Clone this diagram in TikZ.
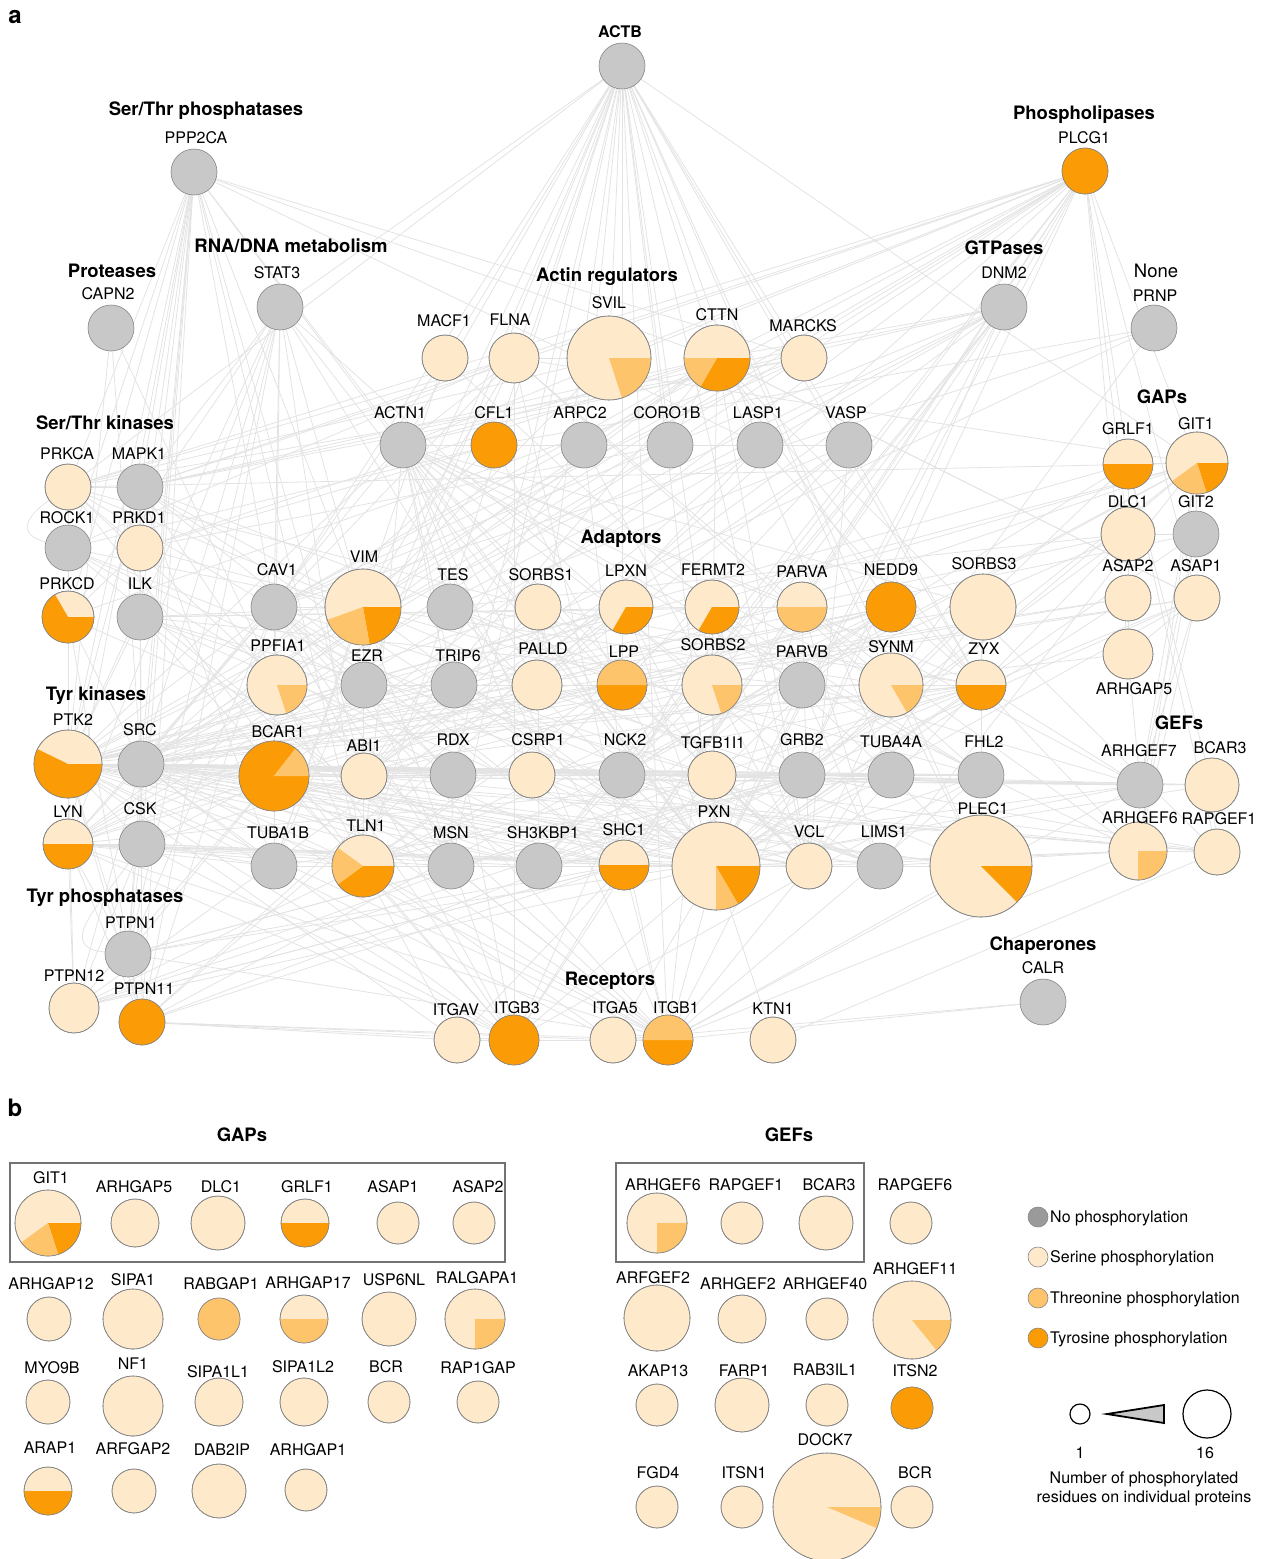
\documentclass[tikz,border=0pt]{standalone}
\usepackage{fontspec}
\setmainfont{TeX Gyre Heros}
\usetikzlibrary{backgrounds}

\definecolor{nophos}{HTML}{C8C8C8}
\definecolor{ser}{HTML}{FEEACB}
\definecolor{thr}{HTML}{FDC46B}
\definecolor{tyr}{HTML}{FB9B05}
\definecolor{edgec}{HTML}{E3E3E3}
\definecolor{rimc}{HTML}{858585}
\definecolor{leggray}{HTML}{9A9A9A}

% gray protein: name, position, radius, label, label position
\newcommand{\nophos}[5]{%
  \node[prot,fill=nophos,minimum size=2*#3pt] (#1) at (#2) {};
  \node[lbl] (#1l) at (#5) {#4};}

% pie protein: name, position, radius, tyr angle, thr angle, label, label position
\newcommand{\prot}[7]{%
  \node[prot,fill=ser,minimum size=2*#3pt] (#1) at (#2) {};
  \ifnum#4>0 \fill[tyr] (#1.center) -- ++(0:#3pt) arc[start angle=0,end angle=-#4,radius=#3pt] -- cycle;\fi
  \ifnum#5>0 \fill[thr] (#1.center) -- ++(-#4:#3pt) arc[start angle=-#4,end angle=-#4-#5,radius=#3pt] -- cycle;\fi
  \draw[rimc,line width=.6pt] (#1.center) circle[radius=#3pt];
  \node[lbl] (#1l) at (#7) {#6};}

\begin{document}
\begin{tikzpicture}
  [x=1pt,y=-1pt,
   prot/.style={circle,inner sep=0pt,draw=rimc,line width=.6pt},
   lbl/.style={font=\fontsize{16}{19}\selectfont,anchor=base,yshift=-5.7pt,inner sep=0pt},
   grp/.style={font=\fontsize{18.5}{22}\selectfont\bfseries,anchor=base,yshift=-6.7pt,inner sep=0pt},
   panel/.style={font=\fontsize{24}{28}\selectfont\bfseries,anchor=base,yshift=-6.3pt,inner sep=0pt},
   edge/.style={draw=edgec,line width=.8pt},
   legdot/.style={circle,inner sep=0pt,minimum size=20pt,draw=rimc,line width=.6pt},
   legtxt/.style={font=\fontsize{16}{19}\selectfont,anchor=base west,yshift=-5.7pt,inner sep=0pt},
   box/.style={draw=black!55,line width=1.1pt}]

  \useasboundingbox (0,0) rectangle (1263,1559);

  \node[panel] (pa) at (15,17) {a};
  \node[panel] (pb) at (15,1110) {b};

  % group titles, panel a
  \node[grp] (gSTP) at (206,109) {Ser/Thr phosphatases};
  \node[grp] (gPRO) at (112,271) {Proteases};
  \node[grp] (gRNA) at (291,246) {RNA/DNA metabolism};
  \node[grp] (gACT) at (607,275) {Actin regulators};
  \node[grp] (gPLC) at (1084,113) {Phospholipases};
  \node[grp] (gGTP) at (1004,248) {GTPases};
  \node[grp,font=\fontsize{18.5}{22}\selectfont] (gNON) at (1156,271) {None};
  \node[grp] (gSTK) at (105,423) {Ser/Thr kinases};
  \node[grp] (gADA) at (621,537) {Adaptors};
  \node[grp] (gGAP) at (1162,397) {GAPs};
  \node[grp] (gTYK) at (96,694) {Tyr kinases};
  \node[grp] (gGEF) at (1179,723) {GEFs};
  \node[grp] (gTYP) at (105,896) {Tyr phosphatases};
  \node[grp] (gREC) at (610,979) {Receptors};
  \node[grp] (gCHA) at (1043,944) {Chaperones};

  % proteins, panel a
  \nophos{ACTB}{622,66}{23}{\bfseries ACTB}{620,32}
  \nophos{PPP2CA}{194,172}{23}{PPP2CA}{196,138}
  \nophos{CAPN2}{111,328}{23}{CAPN2}{108,294}
  \nophos{STAT3}{280,307}{23}{STAT3}{277,273}
  \nophos{DNM2}{1004,307}{23}{DNM2}{1004,273}
  \nophos{PRNP}{1154,328}{23}{PRNP}{1155,296}
  \nophos{ACTN1}{403,445}{23}{ACTN1}{400,413}
  \nophos{ARPC2}{584,445}{23}{ARPC2}{580,413}
  \nophos{CORO1B}{670,445}{23}{CORO1B}{667,413}
  \nophos{LASP1}{760,445}{23}{LASP1}{758,413}
  \nophos{VASP}{849,445}{23}{VASP}{846,413}
  \nophos{MAPK1}{140,487}{23}{MAPK1}{139,454}
  \nophos{ROCK1}{68,548}{23}{ROCK1}{67,518}
  \nophos{ILK}{140,617}{23}{ILK}{140,584}
  \nophos{CAV1}{274,607}{23}{CAV1}{277,570}
  \nophos{EZR}{364,685}{23}{EZR}{367,656}
  \nophos{SRC}{141,764}{23}{SRC}{140,730}
  \nophos{CSK}{142,844}{23}{CSK}{140,809}
  \nophos{TUBA1B}{274,866}{23}{TUBA1B}{278,833}
  \nophos{PTPN1}{128,954}{23}{PTPN1}{131,923}
  \nophos{TES}{450,607}{23}{TES}{453,575}
  \nophos{TRIP6}{454,685}{23}{TRIP6}{458,656}
  \nophos{PARVB}{802,685}{23}{PARVB}{802,652}
  \nophos{RDX}{453,775}{23}{RDX}{453,740}
  \nophos{NCK2}{622,775}{23}{NCK2}{625,740}
  \nophos{GRB2}{802,775}{23}{GRB2}{802,740}
  \nophos{TUBA4A}{891,775}{23}{TUBA4A}{891,742}
  \nophos{FHL2}{981,775}{23}{FHL2}{984,742}
  \nophos{MSN}{451,866}{23}{MSN}{451,833}
  \nophos{SH3KBP1}{539,866}{23}{SH3KBP1}{543,833}
  \nophos{LIMS1}{880,866}{23}{LIMS1}{884,832}
  \nophos{GIT2}{1196,534}{23}{GIT2}{1196,502}
  \nophos{ARHGEF7}{1140,785}{23}{ARHGEF7}{1139,751}
  \nophos{CALR}{1043,1002}{23}{CALR}{1043,968}

  \prot{MACF1}{445,358}{23}{0}{0}{MACF1}{444,321}
  \prot{FLNA}{514,358}{25}{0}{0}{FLNA}{510,320}
  \prot{SVIL}{609,358}{42}{0}{72}{SVIL}{609,303}
  \prot{CTTN}{717,358}{33}{120}{60}{CTTN}{717,315}
  \prot{MARCKS}{804,358}{23}{0}{0}{MARCKS}{803,326}
  \prot{PLCG1}{1085,171}{23}{360}{0}{PLCG1}{1084,138}
  \prot{CFL1}{494,445}{23}{360}{0}{CFL1}{494,413}
  \prot{PRKCA}{68,487}{23}{0}{0}{PRKCA}{67,454}
  \prot{PRKD1}{140,548}{23}{0}{0}{PRKD1}{139,518}
  \prot{PRKCD}{68,617}{26}{240}{0}{PRKCD}{67,584}
  \prot{VIM}{363,607}{38}{80}{80}{VIM}{364,557}
  \prot{PPFIA1}{277,685}{30}{0}{72}{PPFIA1}{278,646}
  \prot{PTK2}{68,764}{34}{206}{0}{PTK2}{73,720}
  \prot{BCAR1}{274,776}{35}{308}{52}{BCAR1}{278,732}
  \prot{ABI1}{364,776}{23}{0}{0}{ABI1}{364,746}
  \prot{LYN}{68,844}{25}{180}{0}{LYN}{68,812}
  \prot{TLN1}{363,866}{31}{144}{72}{TLN1}{366,826}
  \prot{PTPN12}{74,1008}{25}{0}{0}{PTPN12}{74,976}
  \prot{PTPN11}{142,1022}{23}{360}{0}{PTPN11}{144,989}
  \prot{SORBS1}{538,607}{23}{0}{0}{SORBS1}{541,575}
  \prot{LPXN}{626,607}{27}{120}{0}{LPXN}{626,571}
  \prot{FERMT2}{712,607}{27}{120}{0}{FERMT2}{713,570}
  \prot{PARVA}{802,607}{25}{0}{180}{PARVA}{802,572}
  \prot{NEDD9}{891,607}{25}{360}{0}{NEDD9}{891,570}
  \prot{SORBS3}{983,607}{33}{0}{0}{SORBS3}{984,564}
  \prot{PALLD}{537,685}{25}{0}{0}{PALLD}{543,649}
  \prot{LPP}{622,685}{25}{180}{180}{LPP}{624,652}
  \prot{SORBS2}{712,685}{30}{0}{72}{SORBS2}{713,645}
  \prot{SYNM}{891,685}{32}{0}{60}{SYNM}{891,647}
  \prot{ZYX}{981,685}{25}{180}{0}{ZYX}{984,649}
  \prot{CSRP1}{532,775}{23}{0}{0}{CSRP1}{538,740}
  \prot{TGFB1I1}{712,775}{24}{0}{0}{TGFB1I1}{713,743}
  \prot{SHC1}{624,865}{25}{180}{0}{SHC1}{624,830}
  \prot{PXN}{716,866}{44}{60}{30}{PXN}{714,812}
  \prot{VCL}{809,866}{23}{0}{0}{VCL}{809,832}
  \prot{PLEC1}{981,866}{51}{45}{0}{PLEC1}{983,809}
  \prot{GRLF1}{1128,464}{25}{180}{0}{GRLF1}{1128,429}
  \prot{GIT1}{1197,463}{31}{72}{72}{GIT1}{1196,424}
  \prot{DLC1}{1128,534}{27}{0}{0}{DLC1}{1128,502}
  \prot{ASAP2}{1128,598}{23}{0}{0}{ASAP2}{1128,566}
  \prot{ASAP1}{1197,598}{23}{0}{0}{ASAP1}{1196,566}
  \prot{ARHGAP5}{1128,654}{25}{0}{0}{ARHGAP5}{1134,689}
  \prot{BCAR3}{1212,785}{27}{0}{0}{BCAR3}{1220,748}
  \prot{ARHGEF6}{1138,851}{29}{0}{90}{ARHGEF6}{1140,818}
  \prot{RAPGEF1}{1217,852}{23}{0}{0}{RAPGEF1}{1219,819}
  \prot{ITGAV}{457,1040}{23}{0}{0}{ITGAV}{456,1010}
  \prot{ITGB3}{514,1040}{25}{360}{0}{ITGB3}{517,1008}
  \prot{ITGA5}{613,1040}{23}{0}{0}{ITGA5}{615,1008}
  \prot{ITGB1}{668,1040}{25}{180}{180}{ITGB1}{676,1008}
  \prot{KTN1}{773,1040}{23}{0}{0}{KTN1}{773,1009}

  % interactions
  \begin{scope}[on background layer]
    \foreach \p/\qs in {
      ACTB/{ACTN1,FLNA,MACF1,SVIL,CTTN,MARCKS,CFL1,ARPC2,CORO1B,LASP1,VASP,VIM,TLN1,VCL,PXN,PLEC1,CAV1,PRKCA,SORBS2,EZR,PALLD,ZYX,TUBA1B,ITGB1,LPP,SYNM,MSN,RDX,STAT3,GIT1},
      PPP2CA/{PRKCA,MAPK1,PRKCD,ROCK1,ILK,SRC,PTK2,LYN,CSK,VIM,CTTN,MARCKS,TLN1,PXN,ACTN1,PTPN1,ABI1,PRKD1,CAV1,LASP1,PTPN11},
      PLCG1/{PTK2,SRC,LYN,VIM,CTTN,DNM2,GRLF1,GIT1,DLC1,ASAP1,SHC1,GRB2,ITGB3,PXN,BCAR1,PTPN11,ARHGEF7,MAPK1,CAV1,PRKCA,FLNA,NCK2,SH3KBP1,ACTN1},
      STAT3/{SRC,PTK2,LYN,CAV1,PTPN1,PTPN11,MAPK1,BCAR1,SHC1,GRB2,VIM,PRKCD,TLN1,PXN},
      CAPN2/{PTK2,TLN1,SRC},
      DNM2/{SRC,CTTN,GRB2,SHC1,NCK2,SH3KBP1,CAV1,PTK2,MAPK1,PXN,SORBS2,ACTN1,ABI1,LYN},
      PRNP/{CAV1,LYN,SYNM,CFL1},
      SRC/{PTK2,LYN,CSK,BCAR1,PXN,CAV1,CTTN,ACTN1,SHC1,GRB2,NCK2,ABI1,TLN1,VCL,ASAP1,GIT1,ARHGEF7,PTPN1,PTPN11,PTPN12,ITGB3,ITGB1,NEDD9,SORBS2,PRKCD,MAPK1,ILK,VIM,EZR,SH3KBP1,RDX,CSRP1,TGFB1I1,TUBA4A,FHL2,MSN,TUBA1B,PLEC1,LIMS1,LPP,ZYX,CFL1,CORO1B},
      PTK2/{LYN,CSK,BCAR1,PXN,TLN1,VCL,GRB2,SHC1,NCK2,GIT1,GIT2,GRLF1,ASAP1,ARHGEF7,PTPN1,PTPN11,PTPN12,ITGB1,ITGB3,ITGAV,ITGA5,CAV1,NEDD9,TGFB1I1,LPXN,PRKCA,PRKCD,ROCK1,MAPK1,ILK,ACTN1,ZYX,ABI1,PLEC1,SORBS1,SORBS3,CSRP1,RDX,TUBA4A,FHL2,MSN,SH3KBP1,DLC1,ASAP2,BCAR3,RAPGEF1,VIM},
      BCAR1/{PXN,NEDD9,CSK,LYN,SH3KBP1,NCK2,GRB2,BCAR3,RAPGEF1,PTPN1,PTPN12,TLN1,ZYX,VCL,ABI1,SHC1,ITGB1,ARHGEF7,GIT1,CAV1,TUBA1B,MSN},
      PXN/{TLN1,VCL,GIT1,GIT2,ARHGEF7,ARHGEF6,PARVA,PARVB,ILK,LPXN,TGFB1I1,PTPN12,CSK,LYN,ITGB1,ITGA5,ITGB3,ACTN1,ZYX,LIMS1,FERMT2,SHC1,GRB2,SORBS1,SORBS2,SORBS3,PLEC1,VIM,NCK2,FHL2,TUBA4A,PRKCA,MAPK1,CFL1,ABI1,TES,TRIP6,KTN1,ASAP1,ASAP2},
      TLN1/{VCL,ITGB1,ITGB3,ITGA5,ITGAV,FERMT2,ACTN1,LPP,ZYX,PLEC1,TUBA1B,MSN,VIM,DLC1},
      VCL/{ACTN1,ITGB1,ZYX,LPP,VASP,SORBS1,SORBS3,PLEC1,ARPC2,CTTN,SYNM,PARVA,CSRP1},
      ACTN1/{ZYX,LPP,PALLD,TRIP6,CSRP1,ITGB1,ITGB3,FHL2,SORBS2,VASP,LASP1,CTTN,TES,FLNA,SYNM,PARVA,PARVB,SORBS3},
      ZYX/{VASP,LPP,TRIP6,TES,CSRP1,FHL2,SORBS3,NEDD9,ARHGEF6,ARHGEF7},
      ILK/{PARVA,PARVB,LIMS1,FERMT2,ITGB1,ITGB3,TGFB1I1,VIM,MAPK1},
      CAV1/{ITGB1,FLNA,SHC1,GRB2,PTPN1,PTPN11,VIM,EZR,MSN,CTTN,ITGB3,LYN},
      GRB2/{SHC1,NCK2,SH3KBP1,PTPN11,PTPN1,ASAP1,GIT1,ARHGEF7,GRLF1,DLC1,RAPGEF1,BCAR3},
      SHC1/{ITGB3,ITGB1,ITGAV,PTPN11,PTPN12,PTPN1,LYN},
      NCK2/{SH3KBP1,GIT1,ABI1,LIMS1,SORBS2,ARHGEF7},
      CTTN/{ABI1,ARPC2,CORO1B,NEDD9,SORBS2,ZYX,ASAP1,MAPK1,PRKD1},
      FLNA/{ITGB1,ITGB3,VIM,SVIL,FHL2,PRKCA,ROCK1,MAPK1,GIT1},
      VIM/{PRKCA,ROCK1,PRKD1,PLEC1,MAPK1,FHL2,ITGB3,SYNM,EZR,TUBA1B},
      PRKCA/{MARCKS,ITGB1,PRKD1,GIT1,TLN1,SORBS1,MAPK1},
      PRKCD/{PRKD1,LYN,MARCKS,PTPN11,SHC1},
      ROCK1/{MSN,EZR,RDX,LIMS1,PRKCD},
      MAPK1/{MARCKS,ITGB3,SHC1,TUBA4A},
      PRKD1/{CFL1,CORO1B,SRC},
      LYN/{CSK,PTPN12,PTPN1,PTPN11,ITGB3,ITGB1,SH3KBP1,CTTN,TUBA1B,TLN1,MSN,VCL,GRB2},
      CSK/{PTPN12,PTPN1,SHC1,TUBA1B},
      PTPN1/{GRB2,ITGB1,PTPN11},
      PTPN12/{SHC1,GRB2},
      PTPN11/{ITGB3,ITGAV,ITGB1,GIT1,ITGA5},
      GIT1/{ARHGEF7,ARHGEF6,GIT2,LIMS1},
      GIT2/{ARHGEF7,ARHGEF6,DLC1},
      DLC1/{TES,ZYX},
      ASAP1/{ARHGEF7,ARHGEF6,SH3KBP1,CTTN},
      ASAP2/{SRC},
      ARHGAP5/{SRC,ASAP1,GRLF1},
      GRLF1/{GIT1,RAPGEF1,BCAR3,NCK2},
      ARHGEF7/{PARVA,PARVB,ARHGEF6,SH3KBP1,ITGB1},
      ARHGEF6/{PARVA,PARVB,ITGB1,LIMS1,VCL},
      BCAR3/{RAPGEF1,PTPN1},
      RAPGEF1/{NCK2,ABI1,CTTN,ARHGEF6},
      SORBS1/{ZYX,ABI1,SH3KBP1},
      SORBS2/{ZYX,LPP,PALLD,ABI1},
      SORBS3/{ZYX},
      LPXN/{LYN,PTPN12,PTPN11},
      FERMT2/{ITGB1,ITGB3,PARVA,VCL,FHL2},
      PARVA/{LIMS1},
      PARVB/{LIMS1},
      NEDD9/{SH3KBP1,CSK,LYN,NCK2,SHC1,PTPN12},
      SYNM/{PLEC1,FLNA},
      TES/{VASP,LPP},
      TRIP6/{LPP,LIMS1},
      PALLD/{VASP,LASP1,EZR,LPP},
      LPP/{VASP,CSRP1},
      RDX/{EZR,MSN,CAV1},
      EZR/{MSN,FLNA},
      MSN/{ITGB1},
      CSRP1/{PXN},
      TGFB1I1/{ZYX,VCL,LPXN,FHL2,PTPN12,TRIP6},
      TUBA4A/{TUBA1B,PLEC1,CTTN},
      TUBA1B/{PLEC1,MAPK1},
      FHL2/{ITGB1,ITGB3},
      SH3KBP1/{ABI1},
      LIMS1/{PLEC1,TGFB1I1},
      PLEC1/{ITGB1},
      CALR/{ITGB1,ITGA5},
      KTN1/{RAPGEF1},
      ITGB1/{ITGA5,ITGAV,GRB2},
      ITGB3/{ITGAV,CSK},
      MACF1/{TUBA1B,TUBA4A,CAV1},
      SVIL/{PLCG1,VIM,PRKCA},
      CFL1/{CORO1B,ARPC2,ROCK1,ACTN1},
      ARPC2/{CORO1B,ABI1,NCK2,VASP},
      LASP1/{ZYX,VASP,ABI1},
      VASP/{ABI1},
      MARCKS/{CAV1}}
      {\foreach \q in \qs {\draw[edge] (\p) -- (\q);}}
    \draw[edge] (PRKCA) to[out=215,in=165,looseness=1.8] (ROCK1);
    \draw[edge] (CSK) to[out=235,in=175,looseness=1.4] (PTPN1);
  \end{scope}

  % panel b
  \node[grp] (gbGAP) at (242,1135) {GAPs};
  \node[grp] (gbGEF) at (789,1135) {GEFs};
  \draw[box] (10,1163) rectangle (505,1262);
  \draw[box] (616,1163) rectangle (864,1262);

  \prot{bGIT1}{48,1223}{33}{72}{72}{GIT1}{51,1178}
  \prot{bARHGAP5}{135,1223}{24}{0}{0}{ARHGAP5}{134,1187}
  \prot{bDLC1}{218,1223}{27}{0}{0}{DLC1}{221,1187}
  \prot{bGRLF1}{305,1223}{24}{180}{0}{GRLF1}{307,1187}
  \prot{bASAP1}{398,1223}{21}{0}{0}{ASAP1}{393,1187}
  \prot{bASAP2}{474,1223}{21}{0}{0}{ASAP2}{478,1187}
  \prot{bARHGAP12}{49,1319}{22}{0}{0}{ARHGAP12}{51,1284}
  \prot{bSIPA1}{133,1319}{30}{0}{0}{SIPA1}{133,1280}
  \prot{bRABGAP1}{219,1319}{21}{0}{360}{RABGAP1}{221,1284}
  \prot{bARHGAP17}{304,1319}{24}{0}{180}{ARHGAP17}{308,1283}
  \prot{bUSP6NL}{389,1319}{27}{0}{0}{USP6NL}{394,1280}
  \prot{bRALGAPA1}{475,1319}{30}{0}{90}{RALGAPA1}{477,1278}
  \prot{bMYO9B}{48,1402}{22}{0}{0}{MYO9B}{52,1368}
  \prot{bNF1}{133,1406}{30}{0}{0}{NF1}{133,1364}
  \prot{bSIPA1L1}{219,1402}{24}{0}{0}{SIPA1L1}{218,1372}
  \prot{bSIPA1L2}{304,1402}{24}{0}{0}{SIPA1L2}{303,1367}
  \prot{bBCR}{389,1402}{21}{0}{0}{BCR}{386,1367}
  \prot{bRAP1GAP}{478,1402}{21}{0}{0}{RAP1GAP}{478,1368}
  \prot{bARAP1}{48,1491}{24}{180}{0}{ARAP1}{50,1448}
  \prot{bARFGAP2}{134,1491}{22}{0}{0}{ARFGAP2}{133,1449}
  \prot{bDAB2IP}{219,1491}{27}{0}{0}{DAB2IP}{222,1450}
  \prot{bARHGAP1}{306,1490}{21}{0}{0}{ARHGAP1}{308,1450}

  \prot{bARHGEF6}{657,1223}{30}{0}{90}{ARHGEF6}{663,1185}
  \prot{bRAPGEF1}{742,1223}{21}{0}{0}{RAPGEF1}{746,1185}
  \prot{bBCAR3}{826,1223}{27}{0}{0}{BCAR3}{829,1185}
  \prot{bRAPGEF6}{911,1223}{21}{0}{0}{RAPGEF6}{915,1185}
  \prot{bARFGEF2}{657,1318}{33}{0}{0}{ARFGEF2}{653,1278}
  \prot{bARHGEF2}{742,1319}{24}{0}{0}{ARHGEF2}{738,1284}
  \prot{bARHGEF40}{827,1319}{21}{0}{0}{ARHGEF40}{825,1284}
  \prot{bARHGEF11}{912,1320}{39}{0}{51}{ARHGEF11}{915,1269}
  \prot{bAKAP13}{657,1405}{21}{0}{0}{AKAP13}{658,1371}
  \prot{bFARP1}{742,1405}{27}{0}{0}{FARP1}{744,1371}
  \prot{bRAB3IL1}{827,1405}{21}{0}{0}{RAB3IL1}{825,1370}
  \prot{bITSN2}{912,1408}{21}{360}{0}{ITSN2}{915,1371}
  \prot{bFGD4}{657,1507}{21}{0}{0}{FGD4}{658,1473}
  \prot{bITSN1}{742,1507}{21}{0}{0}{ITSN1}{744,1473}
  \prot{bDOCK7}{827,1507}{54}{0}{23}{DOCK7}{825,1440}
  \prot{bBCRgef}{912,1507}{21}{0}{0}{BCR}{915,1473}

  % legend
  \node[legdot,fill=leggray] (legNo) at (1038,1217) {};
  \node[legtxt] (legNoT) at (1050,1217) {No phosphorylation};
  \node[legdot,fill=ser] (legSer) at (1038,1257) {};
  \node[legtxt] (legSerT) at (1050,1257) {Serine phosphorylation};
  \node[legdot,fill=thr] (legThr) at (1038,1298) {};
  \node[legtxt] (legThrT) at (1050,1298) {Threonine phosphorylation};
  \node[legdot,fill=tyr] (legTyr) at (1038,1338) {};
  \node[legtxt] (legTyrT) at (1050,1338) {Tyrosine phosphorylation};

  \node[circle,draw,line width=1.2pt,inner sep=0pt,minimum size=20pt] (szOne) at (1080,1414) {};
  \node[circle,draw,line width=1.2pt,inner sep=0pt,minimum size=48pt] (szMax) at (1207,1414) {};
  \draw[line width=1.8pt,fill=nophos] (1107,1414) -- (1164,1405) -- (1164,1423) -- cycle;
  \node[lbl] (szOneT) at (1080,1453) {1};
  \node[lbl] (szMaxT) at (1205,1453) {16};
  \node[lbl] (szCap1) at (1144,1478) {Number of phosphorylated};
  \node[lbl] (szCap2) at (1144,1497) {residues on individual proteins};
\end{tikzpicture}
\end{document}
